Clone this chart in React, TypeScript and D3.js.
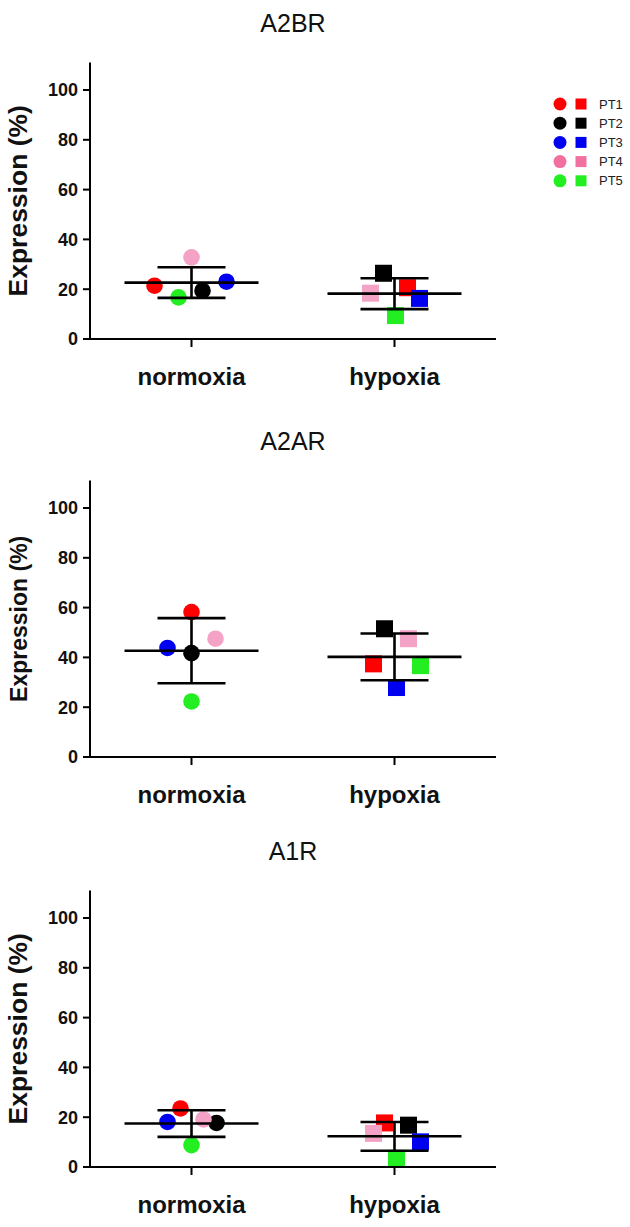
import React from "react";
import * as d3 from "d3";

// ---------- data ----------
const patients = ["PT1", "PT2", "PT3", "PT4", "PT5"];
const categories = ["normoxia", "hypoxia"];
const panelTitles = ["A2BR", "A2AR", "A1R"];
const yTicks = [0, 20, 40, 60, 80, 100];

// values per patient (PT1..PT5), Expression (%)
const a2brNormoxia = [21.4, 19.4, 23.0, 32.8, 16.7];
const a2brHypoxia = [20.6, 26.4, 16.3, 18.4, 9.4];
const a2arNormoxia = [58.2, 41.7, 43.8, 47.5, 22.3];
const a2arHypoxia = [37.4, 51.5, 27.9, 47.5, 36.7];
const a1rNormoxia = [23.5, 17.7, 18.1, 19.1, 8.8];
const a1rHypoxia = [17.7, 16.8, 10.1, 13.5, 3.5];

// ---------- layout / style ----------
const patientColors = ["#ff0000", "#000000", "#0000f0", "#f4a2c6", "#22ee22"];
const legendColors = ["#ff0000", "#000000", "#0000f0", "#f0709f", "#22ee22"];
// horizontal scatter offsets (px) of PT1..PT5 around each category
const jitter = [
  [[-37, 11, 35, 0, -13], [13, -11, 25, -24, 1]],
  [[0, 0, -24, 24, 0], [-21, -10, 2, 14, 26]],
  [[-11, 25, -24, 12, 0], [-10, 14, 26, -21, 2]],
];
const panelOffsets = [0, 418, 828];
const panelStyle = [
  { tickWeight: "bold", titleSize: 26.5 },
  { tickWeight: "bold", titleSize: 23 },
  { tickWeight: "bold", titleSize: 26.5 },
];

const panelData = [
  [a2brNormoxia, a2brHypoxia],
  [a2arNormoxia, a2arHypoxia],
  [a1rNormoxia, a1rHypoxia],
];

const FONT = "'Liberation Sans', Arial, sans-serif";

const x = d3.scalePoint<string>().domain(categories).range([90, 496]).padding(0.5);
const y = d3.scaleLinear().domain([0, 100]).range([339, 90]);
const Y_TOP = 111;
const R = 8.3;
const SQ = 17;

function Panel({ idx }: { idx: number }) {
  const off = panelOffsets[idx];
  const st = panelStyle[idx];
  const groups = panelData[idx];
  return (
    <g transform={`translate(0,${off})`}>
      <text
        x={(x.range()[0] + x.range()[1]) / 2}
        y={32}
        textAnchor="middle"
        fontFamily={FONT}
        fontSize={25}
        fill="#111"
      >
        {panelTitles[idx]}
      </text>
      {/* y axis title */}
      <text
        transform={`translate(27,${(y(0) + y(Y_TOP)) / 2}) rotate(-90)`}
        textAnchor="middle"
        fontFamily={FONT}
        fontWeight="bold"
        fontSize={st.titleSize}
        fill="#111"
      >
        Expression (%)
      </text>
      {/* data */}
      {groups.map((vals, gi) => {
        const cx = x(categories[gi])!;
        return vals.map((v, pi) => {
          const px = cx + jitter[idx][gi][pi];
          const py = y(v);
          return gi === 0 ? (
            <circle key={`${gi}-${pi}`} cx={px} cy={py} r={R} fill={patientColors[pi]} />
          ) : (
            <rect
              key={`${gi}-${pi}`}
              x={px - SQ / 2}
              y={py - SQ / 2}
              width={SQ}
              height={SQ}
              fill={patientColors[pi]}
            />
          );
        });
      })}
      {/* mean +- SD */}
      {groups.map((vals, gi) => {
        const cx = x(categories[gi])!;
        const m = d3.mean(vals)!;
        const sd = d3.deviation(vals)!;
        return (
          <g key={`eb${gi}`} stroke="#000" strokeWidth={2.6}>
            <line x1={cx - 67} x2={cx + 67} y1={y(m)} y2={y(m)} />
            <line x1={cx} x2={cx} y1={y(m + sd)} y2={y(m - sd)} />
            <line x1={cx - 34} x2={cx + 34} y1={y(m + sd)} y2={y(m + sd)} />
            <line x1={cx - 34} x2={cx + 34} y1={y(m - sd)} y2={y(m - sd)} />
          </g>
        );
      })}
      {/* axes */}
      <line x1={90} x2={90} y1={y(0)} y2={y(Y_TOP)} stroke="#000" strokeWidth={2} />
      <line x1={83} x2={x.range()[1]} y1={y(0)} y2={y(0)} stroke="#000" strokeWidth={2} />
      {yTicks.map((t) => (
        <g key={t}>
          <line x1={83} x2={90} y1={y(t)} y2={y(t)} stroke="#000" strokeWidth={2} />
          <text
            x={78}
            y={y(t)}
            dy="0.36em"
            textAnchor="end"
            fontFamily={FONT}
            fontWeight={st.tickWeight}
            fontSize={18}
            fill="#111"
          >
            {t}
          </text>
        </g>
      ))}
      {categories.map((c) => (
        <g key={c}>
          <line x1={x(c)} x2={x(c)} y1={y(0)} y2={y(0) + 8} stroke="#000" strokeWidth={2} />
          <text
            x={x(c)}
            y={y(0) + 46}
            textAnchor="middle"
            fontFamily={FONT}
            fontWeight="bold"
            fontSize={24}
            fill="#111"
          >
            {c}
          </text>
        </g>
      ))}
    </g>
  );
}

function Legend() {
  return (
    <g>
      {patients.map((p, i) => {
        const cy = 104 + i * 19.2;
        return (
          <g key={p}>
            <circle cx={560} cy={cy} r={6.5} fill={legendColors[i]} />
            <rect x={575.5} y={cy - 5.5} width={11} height={11} fill={legendColors[i]} />
            <text x={599} y={cy + 4.6} fontFamily={FONT} fontSize={13} fill="#222">
              {p}
            </text>
          </g>
        );
      })}
    </g>
  );
}

export default function App() {
  return (
    <svg
      width={630}
      height={1227}
      style={{ position: "absolute", left: 0, top: 0, background: "#fff" }}
    >
      <rect width={630} height={1227} fill="#fff" />
      {panelTitles.map((_, i) => (
        <Panel key={i} idx={i} />
      ))}
      <Legend />
    </svg>
  );
}
